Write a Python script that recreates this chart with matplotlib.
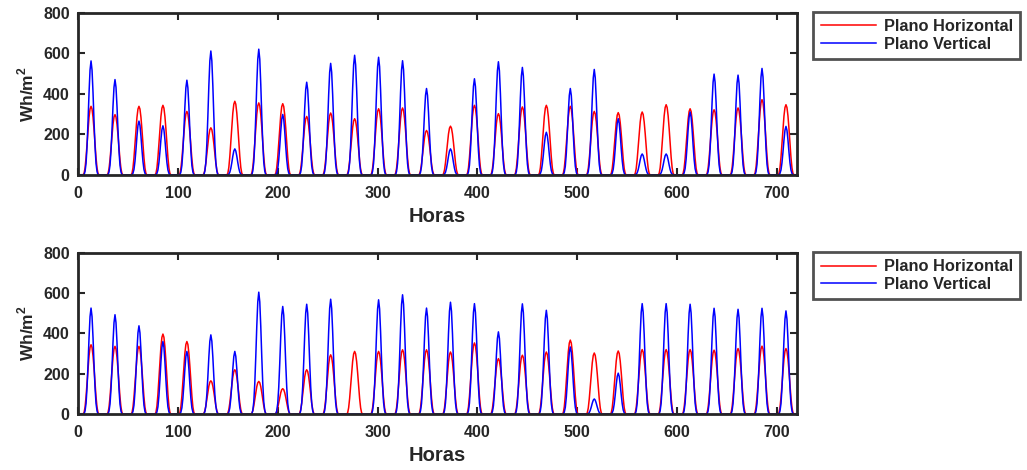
import numpy as np
import matplotlib.pyplot as plt

# -----------------------------
# Datos
# -----------------------------
# pico diario (Wh/m2) para cada uno de los 30 días
pico_h_sup = [338, 297, 338, 343, 313, 232, 363, 355, 351, 288, 305, 277, 326, 330, 219,
              240, 343, 302, 335, 343, 338, 313, 307, 310, 346, 326, 321, 330, 371, 346]
pico_v_sup = [562, 470, 265, 242, 467, 611, 128, 620, 298, 457, 550, 590, 580, 563, 426,
              128, 474, 558, 530, 210, 426, 520, 277, 103, 103, 310, 497, 492, 525, 239]

pico_h_inf = [344, 336, 336, 397, 360, 165, 220, 162, 126, 220, 294, 311, 311, 319, 319,
              308, 353, 275, 292, 308, 367, 303, 313, 320, 320, 320, 317, 325, 337, 325]
pico_v_inf = [526, 493, 438, 360, 311, 393, 311, 605, 534, 545, 570, 0, 567, 592, 526,
              555, 548, 408, 547, 515, 333, 75, 203, 548, 548, 545, 525, 520, 525, 512]

# perfil horario normalizado de un día (0..23 h)
perfil_h = [0, 0, 0, 0, 0, 0, 0.02, 0.1, 0.25, 0.45, 0.66, 0.84, 0.96, 1.0,
            0.96, 0.84, 0.66, 0.45, 0.25, 0.1, 0.02, 0, 0, 0]
perfil_v = [0, 0, 0, 0, 0, 0, 0, 0.03, 0.1, 0.25, 0.47, 0.72, 0.92, 1.0,
            0.92, 0.72, 0.47, 0.25, 0.1, 0.03, 0, 0, 0, 0]

ticks_x = [0, 100, 200, 300, 400, 500, 600, 700]
ticks_y = [0, 200, 400, 600, 800]

GRIS = "#262626"


def serie(picos, perfil):
    return np.concatenate([p * np.array(perfil) for p in picos])


def dibujar(ax, ph, pv):
    horas = np.arange(len(ph))
    ax.plot(horas, ph, color="red", lw=1.1, label="Plano Horizontal")
    ax.plot(horas, pv, color="blue", lw=1.1, label="Plano Vertical")
    ax.set_xlim(0, 720)
    ax.set_ylim(0, 800)
    ax.set_xticks(ticks_x)
    ax.set_yticks(ticks_y)
    ax.tick_params(direction="in", top=True, right=True, length=5, width=1.5,
                   labelsize=11.5, colors=GRIS)
    ax.tick_params(axis="x", pad=8)
    ax.tick_params(axis="y", pad=6)
    for lab in ax.get_xticklabels() + ax.get_yticklabels():
        lab.set_fontweight("bold")
    for s in ax.spines.values():
        s.set_linewidth(2)
        s.set_color(GRIS)
    ax.set_xlabel("Horas", fontsize=14.5, fontweight="bold", labelpad=4, color=GRIS)
    ax.set_ylabel("Wh/m$^\\mathbf{2}$", fontsize=12.5, fontweight="bold", labelpad=5,
                  color=GRIS)

    # leyenda fuera del eje, a la derecha
    y_leg = ax.get_position().y1 + 0.002
    leg = ax.legend(loc="upper left", bbox_to_anchor=(0.792, y_leg),
                    bbox_transform=ax.figure.transFigure, fancybox=False,
                    borderaxespad=0, prop={"weight": "bold", "size": 11.8},
                    handlelength=3.4, borderpad=0.45, labelspacing=0.15,
                    handletextpad=0.45)
    leg.get_frame().set_edgecolor(GRIS)
    leg.get_frame().set_linewidth(2)
    for t in leg.get_texts():
        t.set_color(GRIS)


plt.rcParams["font.family"] = ["Liberation Sans", "DejaVu Sans"]
plt.rcParams["mathtext.fontset"] = "custom"
plt.rcParams["mathtext.bf"] = "Liberation Sans:bold"

fig = plt.figure(figsize=(10.27, 4.70), dpi=100)
ax1 = fig.add_axes([0.076, 0.628, 0.700, 0.345])
ax2 = fig.add_axes([0.076, 0.119, 0.700, 0.343])

dibujar(ax1, serie(pico_h_sup, perfil_h), serie(pico_v_sup, perfil_v))
dibujar(ax2, serie(pico_h_inf, perfil_h), serie(pico_v_inf, perfil_v))

fig.savefig("out.png", dpi=100)
